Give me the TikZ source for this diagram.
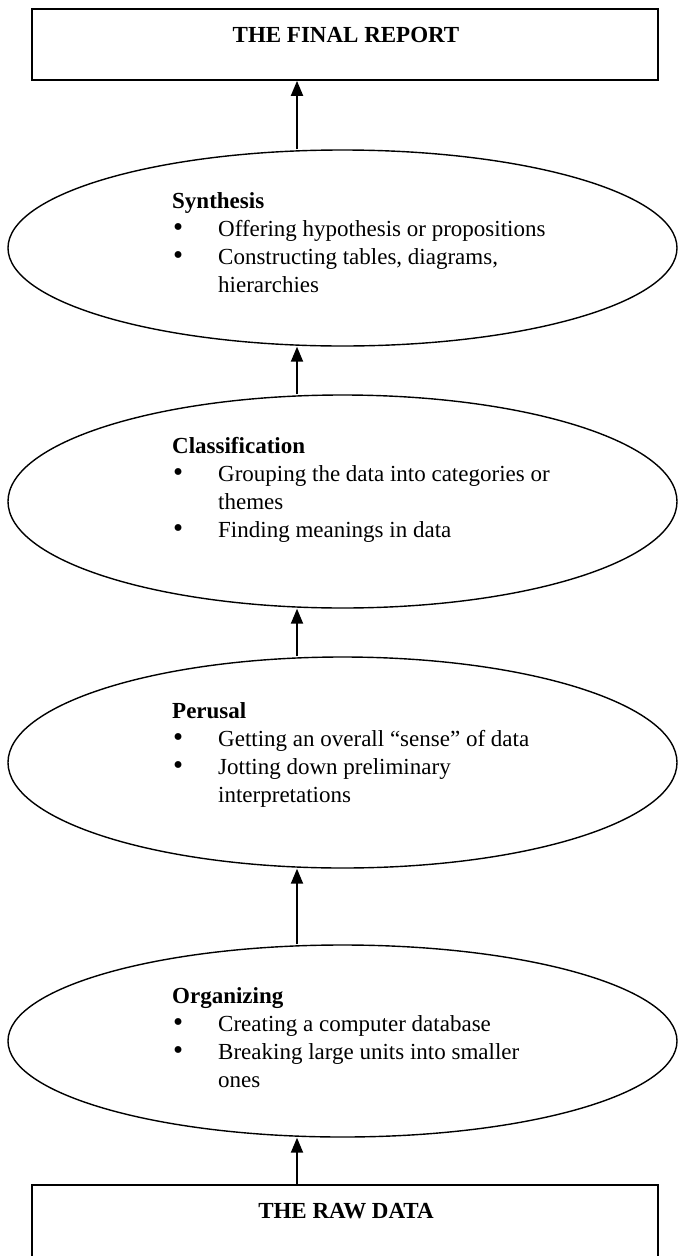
\documentclass[tikz,border=0pt]{standalone}
\usepackage{fontspec}
\setmainfont{Liberation Serif}
\usetikzlibrary{shapes.geometric,arrows.meta}
\tikzset{
  box/.style={draw, line width=1.7pt, minimum width=626pt, inner sep=0pt},
  phase/.style={draw, ellipse, line width=1.4pt, minimum width=669pt, inner sep=0pt},
  lbl/.style={inner sep=0pt, anchor=base, font=\fontsize{23}{28}\selectfont\bfseries},
  txt/.style={inner sep=0pt, align=left, anchor=north west, font=\fontsize{23}{28}\selectfont},
  up/.style={-{Triangle[width=12pt,length=15pt]}, line width=1.9pt}
}
\newcommand{\itm}{\makebox[46pt][l]{\hspace{1pt}\scalebox{1.25}{\textbullet}}}
\newcommand{\cont}{\hspace*{46pt}}
\begin{document}
\begin{tikzpicture}[x=1pt, y=-1pt]
  \useasboundingbox (0,0) rectangle (678,1256);
  \coordinate (axis) at (297,0);

  \node[box, minimum height=71pt] (report) at (345,44.5) {};
  \node[lbl] (reportlbl) at (346,42) {THE FINAL REPORT};

  \node[phase, minimum height=196pt] (synth) at (342.5,248) {};
  \node[txt] (synthtxt) at (172,192) {\textbf{Synthesis}\\
    \itm Offering hypothesis or propositions\\
    \itm Constructing tables, diagrams,\\
    \cont hierarchies};

  \node[phase, minimum height=213pt] (classif) at (342.5,501.5) {};
  \node[txt] (classiftxt) at (172,437) {\textbf{Classification}\\
    \itm Grouping the data into categories or\\
    \cont themes\\
    \itm Finding meanings in data};

  \node[phase, minimum height=211pt] (perusal) at (342.5,762.5) {};
  \node[txt] (perusaltxt) at (172,702) {\textbf{Perusal}\\
    \itm Getting an overall ``sense'' of data\\
    \itm Jotting down preliminary\\
    \cont interpretations};

  \node[phase, minimum height=192pt] (organ) at (342.5,1041) {};
  \node[txt] (organtxt) at (172,987) {\textbf{Organizing}\\
    \itm Creating a computer database\\
    \itm Breaking large units into smaller\\
    \cont ones};

  \node[box, minimum height=71.5pt] (raw) at (345,1220.75) {};
  \node[lbl] (rawlbl) at (346,1218) {THE RAW DATA};

  \begin{scope}[up]
    \draw (raw.north -| axis) to (organ.south -| axis);
    \draw (organ.north -| axis) to (perusal.south -| axis);
    \draw (perusal.north -| axis) to (classif.south -| axis);
    \draw (classif.north -| axis) to (synth.south -| axis);
    \draw (synth.north -| axis) to (report.south -| axis);
  \end{scope}
\end{tikzpicture}
\end{document}
